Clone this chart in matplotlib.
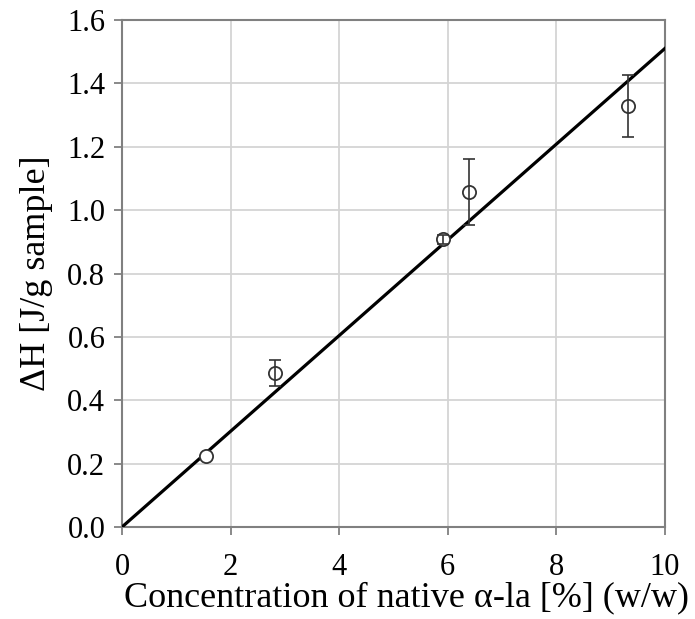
import numpy as np
import matplotlib.pyplot as plt

plt.rcParams['font.family'] = ['Liberation Serif', 'DejaVu Serif']

# datos
conc = np.array([1.55, 2.82, 5.92, 6.40, 9.33])
dH = np.array([0.224, 0.486, 0.908, 1.057, 1.330])
err = np.array([0.0, 0.040, 0.015, 0.104, 0.098])

# recta de ajuste
fit_x = np.array([0.0, 10.0])
fit_y = np.array([0.0, 1.51])

fig = plt.figure(figsize=(6.95, 6.19), dpi=100)
ax = fig.add_axes([0.1755, 0.1486, 0.781, 0.819])

ax.grid(True, color='#d4d4d4', linewidth=1.3)
ax.set_axisbelow(True)

ax.plot(fit_x, fit_y, color='black', linewidth=2.3, zorder=3)
ax.plot(conc, dH, 'o', mfc='white', mec='#333333', markersize=9.5,
        mew=1.3, zorder=4)
ax.errorbar(conc[1:], dH[1:], yerr=err[1:], fmt='none', ecolor='#333333',
            elinewidth=1.2, capsize=4, capthick=1.2, zorder=5)

ax.set_xlim(0, 10)
ax.set_ylim(0, 1.6)
ax.set_xticks([0, 2, 4, 6, 8, 10])
ax.set_yticks(np.arange(0, 1.61, 0.2))
ax.set_yticklabels(['%.1f' % v for v in np.arange(0, 1.61, 0.2)])

for s in ax.spines.values():
    s.set_color('#808080')
    s.set_linewidth(1.5)
ax.tick_params(direction='out', length=6, width=1.3, color='#808080',
               labelsize=22, pad=6)
ax.tick_params(axis='x', pad=13)

ax.set_xlabel('Concentration of native \u03b1-la [%] (w/w)', fontsize=26, labelpad=-1)
ax.xaxis.label.set_x(0.525)
ax.set_ylabel('\u0394H [J/g sample]', fontsize=26, labelpad=10)

plt.savefig('out.png', dpi=100)
